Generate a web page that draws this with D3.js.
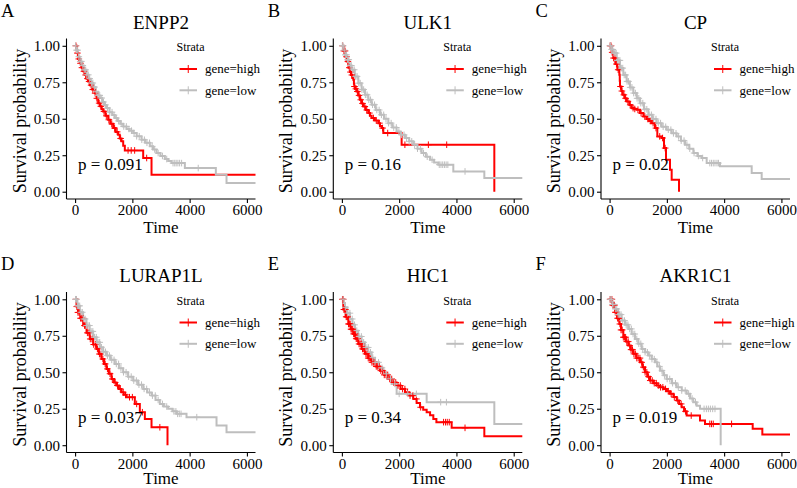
<!DOCTYPE html>
<html><head><meta charset="utf-8">
<script src="https://cdn.jsdelivr.net/npm/d3@7"></script>
<style>
body{margin:0;background:#fff}
svg text{font-family:"Liberation Serif","Times New Roman",serif;fill:#000}
</style>
</head><body>
<svg id="chart" width="797" height="488"></svg>
<script>
// ---------------- data ----------------
const panelLetters = ["A","B","C","D","E","F"];
const genes = ["ENPP2","ULK1","CP","LURAP1L","HIC1","AKR1C1"];
const pValues = ["p = 0.091","p = 0.16","p = 0.02","p = 0.037","p = 0.34","p = 0.019"];
const strataLabels = ["gene=high","gene=low"];
const xTicks = [0,2000,4000,6000];
const yTicks = [0,0.25,0.5,0.75,1];

// Kaplan-Meier knots [time, survival]
const highA = [[0,1],[60,0.95],[107,0.91],[170,0.88],[230,0.85],[282,0.825],[340,0.8],[400,0.775],[457,0.755],[520,0.73],[600,0.7],[690,0.675],[750,0.64],[806,0.607],[870,0.585],[930,0.565],[981,0.55],[1060,0.52],[1155,0.493],[1230,0.465],[1330,0.436],[1420,0.41],[1504,0.39],[1560,0.365],[1621,0.345],[1680,0.315],[1737,0.283],[2378,0.231],[2669,0.116],[6600,0.116]];
const lowA = [[0,1],[40,0.97],[100,0.925],[166,0.893],[230,0.865],[300,0.835],[398,0.801],[470,0.775],[550,0.745],[631,0.717],[720,0.685],[800,0.66],[864,0.642],[950,0.615],[1020,0.595],[1097,0.573],[1200,0.545],[1300,0.525],[1388,0.505],[1480,0.485],[1580,0.465],[1679,0.447],[1800,0.43],[1900,0.418],[2028,0.402],[2150,0.38],[2319,0.356],[2450,0.335],[2610,0.311],[2720,0.29],[2843,0.265],[2980,0.245],[3134,0.224],[3250,0.21],[3367,0.196],[3833,0.162],[4915,0.116],[5288,0.059],[6600,0.059]];
const highB = [[0,1],[60,0.965],[120,0.925],[166,0.893],[230,0.85],[280,0.82],[317,0.8],[365,0.78],[398,0.767],[420,0.74],[433,0.721],[470,0.705],[515,0.687],[570,0.66],[631,0.63],[690,0.605],[748,0.584],[830,0.56],[922,0.539],[980,0.52],[1039,0.505],[1150,0.488],[1272,0.47],[1330,0.45],[1388,0.436],[1446,0.402],[2086,0.322],[5323,0]];
const lowB = [[0,1],[50,0.97],[107,0.938],[170,0.905],[250,0.865],[340,0.836],[450,0.79],[573,0.744],[690,0.7],[806,0.664],[920,0.63],[1039,0.596],[1180,0.56],[1330,0.527],[1470,0.5],[1621,0.47],[1760,0.44],[1912,0.413],[2050,0.39],[2203,0.368],[2350,0.345],[2494,0.322],[2640,0.295],[2785,0.265],[2930,0.24],[3076,0.219],[3220,0.2],[3367,0.185],[3891,0.139],[4974,0.094],[6600,0.094]];
const highC = [[0,1],[70,0.955],[131,0.916],[200,0.875],[270,0.836],[340,0.801],[355,0.76],[364,0.721],[410,0.69],[457,0.664],[530,0.64],[596,0.619],[690,0.595],[771,0.573],[860,0.567],[946,0.562],[1062,0.539],[1180,0.515],[1295,0.498],[1380,0.485],[1469,0.47],[1586,0.436],[1667,0.379],[1819,0.368],[1900,0.299],[1970,0.219],[2110,0.151],[2168,0.082],[2424,0]];
const lowC = [[0,1],[60,0.975],[131,0.95],[250,0.9],[364,0.847],[480,0.8],[596,0.756],[710,0.715],[829,0.676],[950,0.64],[1062,0.607],[1200,0.565],[1353,0.527],[1500,0.498],[1644,0.47],[1820,0.445],[1993,0.425],[2170,0.4],[2343,0.379],[2490,0.35],[2634,0.322],[2780,0.295],[2925,0.265],[3070,0.245],[3216,0.231],[3390,0.196],[3856,0.174],[4962,0.128],[5311,0.087],[6600,0.087]];
const highD = [[0,1],[49,0.95],[100,0.91],[180,0.87],[282,0.82],[400,0.77],[515,0.728],[630,0.69],[748,0.66],[830,0.625],[922,0.591],[1010,0.557],[1097,0.523],[1180,0.49],[1272,0.454],[1360,0.43],[1446,0.409],[1530,0.385],[1621,0.363],[1700,0.345],[1795,0.329],[2086,0.283],[2261,0.226],[2436,0.18],[2669,0.123],[3227,0]];
const lowD = [[0,1],[80,0.955],[166,0.911],[280,0.865],[398,0.82],[510,0.78],[631,0.74],[750,0.705],[864,0.671],[980,0.64],[1097,0.614],[1240,0.585],[1388,0.557],[1530,0.528],[1679,0.5],[1850,0.47],[2028,0.443],[2200,0.415],[2378,0.386],[2520,0.362],[2669,0.34],[2810,0.31],[2960,0.283],[3100,0.265],[3251,0.249],[3400,0.232],[3542,0.215],[3891,0.192],[4939,0.135],[5288,0.089],[6600,0.089]];
const highE = [[0,1],[49,0.93],[130,0.88],[224,0.831],[310,0.795],[398,0.763],[480,0.73],[573,0.694],[690,0.66],[806,0.626],[920,0.597],[1039,0.568],[1180,0.54],[1330,0.511],[1480,0.482],[1621,0.454],[1760,0.43],[1912,0.409],[2050,0.385],[2203,0.363],[2350,0.34],[2494,0.317],[2610,0.29],[2727,0.26],[2840,0.243],[2960,0.226],[3080,0.205],[3193,0.18],[3300,0.158],[3833,0.119],[4974,0.062],[6600,0.062]];
const lowE = [[0,1],[60,0.975],[107,0.945],[190,0.905],[282,0.865],[370,0.825],[457,0.785],[570,0.745],[690,0.705],[806,0.67],[922,0.637],[1040,0.6],[1155,0.568],[1300,0.53],[1446,0.489],[1590,0.455],[1737,0.42],[1912,0.352],[2960,0.295],[5323,0.146],[6600,0.146]];
const highF = [[0,1],[90,0.96],[189,0.911],[260,0.87],[340,0.831],[400,0.79],[480,0.74],[570,0.71],[655,0.683],[740,0.655],[829,0.626],[940,0.597],[1062,0.568],[1150,0.535],[1237,0.5],[1320,0.47],[1411,0.443],[1530,0.425],[1644,0.409],[1760,0.397],[1877,0.386],[2000,0.37],[2110,0.352],[2230,0.33],[2343,0.306],[2430,0.283],[2517,0.26],[2600,0.232],[2692,0.203],[3157,0.169],[3332,0.146],[4997,0.112],[5334,0.073],[6600,0.073]];
const lowF = [[0,1],[90,0.965],[189,0.934],[300,0.895],[422,0.854],[540,0.825],[655,0.797],[770,0.762],[888,0.728],[1000,0.695],[1120,0.66],[1240,0.637],[1353,0.614],[1470,0.59],[1586,0.568],[1670,0.54],[1760,0.511],[1880,0.48],[1993,0.454],[2170,0.425],[2343,0.397],[2520,0.375],[2692,0.352],[2810,0.32],[2925,0.295],[3040,0.27],[3157,0.249],[3879,0]];

// censoring times
const censHighA = [30,80,130,190,240,310,370,430,490,560,620,700,760,840,900,1010,1090,1180,1280,1380,1470,1590,1850,1960,2080,2500];
const censLowA = [20,50,90,130,180,220,270,320,370,410,460,510,570,620,680,740,800,860,930,990,1060,1130,1210,1290,1360,1440,1520,1610,1700,1790,1880,1970,2060,2150,2240,2330,2420,2510,2600,2690,2780,2900,3050,3200,3420,3480,3530,3590,3650,3720,4300];
const censHighB = [25,70,110,160,210,260,300,350,440,490,540,600,660,720,800,870,960,1100,1200,1310,1420,1600,2200,3020,3660];
const censLowB = [15,45,80,120,160,200,240,290,330,380,430,480,530,590,640,700,760,820,880,940,1000,1070,1140,1220,1300,1380,1460,1540,1630,1720,1810,1900,1990,2080,2170,2260,2350,2440,2540,2640,2740,2850,2980,3150,3400,3460,3520,3580,3640,3700,4300];
const censHighC = [20,50,90,140,190,240,300,380,430,500,560,640,720,820,880,990,1100,1230,1340,1420,1520,1620,1750,1850,1940];
const censLowC = [15,40,70,110,150,190,230,270,320,360,410,460,510,560,610,660,720,780,840,900,960,1020,1090,1160,1230,1300,1380,1460,1540,1620,1700,1780,1870,1960,2050,2140,2230,2320,2410,2500,2600,2700,2800,2950,3100,3250,3500,3560,3620,3680,3750,3800];
const censHighD = [30,60,100,140,190,230,280,330,380,430,480,530,590,650,710,780,850,900,970,1050,1130,1220,1300,1400,1480,1580,1680,1760,1900,2000,2150,2350,2960];
const censLowD = [15,45,80,120,160,200,250,300,350,400,450,500,560,620,680,740,800,860,920,990,1060,1130,1200,1280,1360,1440,1520,1600,1690,1780,1870,1960,2050,2140,2230,2320,2410,2500,2600,2700,2800,2900,3050,3200,3450,3520,3580,3640,3700,4250];
const censHighE = [20,45,70,95,120,150,175,200,230,260,290,320,350,380,410,440,470,500,530,560,600,640,680,720,760,800,840,880,920,960,1000,1050,1100,1150,1200,1250,1300,1360,1420,1480,1540,1600,1670,1740,1810,1880,1960,2040,2120,2200,2290,2380,2480,2600,2750,3550,3620,3680,3750,4300];
const censLowE = [40,120,200,280,360,440,520,600,680,760,840,920,1000,1080,1160,1280,1400,1550,1700,1850,2000,2300,2600,3450,3650];
const censHighF = [20,50,80,110,140,170,200,240,280,320,360,400,440,480,520,560,600,650,700,750,800,850,900,950,1000,1060,1120,1180,1240,1300,1360,1420,1490,1560,1630,1700,1780,1860,1950,2050,2150,2260,2380,2500,2650,2850,3500,3560,3620,4260];
const censLowF = [20,60,100,150,200,250,300,350,400,460,520,580,640,700,760,820,880,950,1020,1090,1160,1240,1320,1400,1480,1560,1650,1740,1830,1920,2010,2100,2200,2300,2400,2520,2640,2760,2880,3000,3300,3380,3450,3520,3600,3680];

const highCurves = [highA,highB,highC,highD,highE,highF];
const lowCurves = [lowA,lowB,lowC,lowD,lowE,lowF];
const highCens = [censHighA,censHighB,censHighC,censHighD,censHighE,censHighF];
const lowCens = [censLowA,censLowB,censLowC,censLowD,censLowE,censLowF];

// ---------------- layout ----------------
const colorHigh = "#FF0000", colorLow = "#BEBEBE";
const colOffsets = [0, 266.8, 534.5];
const rowOffsets = [0, 253.5];
const plotL = 66.5, plotW = 189, plotTop = 38.5, plotBot = 199;

const svg = d3.select("#chart");
const x = d3.scaleLinear().domain([-300, 6300]).range([plotL, plotL + plotW]);
const y = d3.scaleLinear().domain([-0.05, 1.05]).range([plotBot, plotTop]);
const bis = d3.bisector(d => d[0]).right;
const survAt = (curve, t) => curve[Math.max(0, bis(curve, t) - 1)][1];
const line = d3.line().x(d => x(d[0])).y(d => y(d[1])).curve(d3.curveStepAfter);

svg.append("defs").append("clipPath").attr("id", "clip")
  .append("rect").attr("x", plotL).attr("y", plotTop).attr("width", plotW).attr("height", plotBot - plotTop);

genes.forEach((gene, i) => {
  const row = Math.floor(i / 3);
  const g = svg.append("g")
    .attr("transform", `translate(${colOffsets[i % 3]},${rowOffsets[row]})`);

  // panel letter & title
  g.append("text").attr("x", 1).attr("y", 16.5).style("font-size", "18.5px").text(panelLetters[i]);
  g.append("text").attr("x", plotL + plotW / 2).attr("y", 28.5).attr("text-anchor", "middle")
    .style("font-size", "19px").text(gene);

  // curves
  const pg = g.append("g").attr("clip-path", "url(#clip)");
  const series = [
    {curve: highCurves[i], cens: highCens[i], color: colorHigh},
    {curve: lowCurves[i], cens: lowCens[i], color: colorLow}
  ];
  series.forEach(s => {
    pg.append("path").datum(s.curve).attr("d", line)
      .attr("fill", "none").attr("stroke", s.color).attr("stroke-width", 2);
  });
  series.forEach(s => {
    pg.selectAll(null).data(s.cens).enter().append("path")
      .attr("d", t => {
        const cx = x(t), cy = y(survAt(s.curve, t)), h = 3.3;
        return `M${cx - h},${cy}H${cx + h}M${cx},${cy - h}V${cy + h}`;
      })
      .attr("stroke", s.color).attr("stroke-width", 1).attr("fill", "none");
  });

  // axes
  const ax = g.append("g").attr("transform", `translate(0,${plotBot})`)
    .call(d3.axisBottom(x).tickValues(xTicks).tickSize(4).tickPadding(2).tickFormat(d3.format("d")));
  const ay = g.append("g").attr("transform", `translate(${plotL},0)`)
    .call(d3.axisLeft(y).tickValues(yTicks).tickSize(4).tickPadding(2.5).tickFormat(d3.format(".2f")));
  [ax, ay].forEach(a => {
    a.select(".domain").attr("stroke", "#000").attr("stroke-width", 1.1);
    a.selectAll(".tick line").attr("stroke", "#000").attr("stroke-width", 1.1);
    a.selectAll(".tick text").style("font-size", "15px").style("font-family", '"Liberation Serif",serif').attr("fill", "#000");
  });
  ay.select(".domain").attr("d", `M0,${plotTop}V${plotBot}`);
  ax.select(".domain").attr("d", `M${plotL},0H${plotL + plotW}`);
  ax.selectAll(".tick text").attr("dy", "0.68em");

  // axis titles
  g.append("text").attr("x", plotL + plotW / 2).attr("y", row === 0 ? 233 : 230)
    .attr("text-anchor", "middle").style("font-size", "17px").text("Time");
  g.append("text").attr("transform", `translate(25.5,121) rotate(-90)`).attr("text-anchor", "middle")
    .style("font-size", "18px").text("Survival probability");

  // p-value
  g.append("text").attr("x", x(100)).attr("y", y(0.15)).style("font-size", "17px").text(pValues[i]);

  // legend
  const lx = plotL + 110;
  g.append("text").attr("x", lx).attr("y", 51).style("font-size", "12px").text("Strata");
  [colorHigh, colorLow].forEach((c, k) => {
    const ly = 69 + k * 21.3;
    g.append("line").attr("x1", lx + 3).attr("x2", lx + 20.5).attr("y1", ly).attr("y2", ly)
      .attr("stroke", c).attr("stroke-width", 2);
    g.append("line").attr("x1", lx + 11.75).attr("x2", lx + 11.75).attr("y1", ly - 4).attr("y2", ly + 4)
      .attr("stroke", c).attr("stroke-width", 1);
    g.append("text").attr("x", lx + 28.5).attr("y", ly + 4.3).style("font-size", "13px").text(strataLabels[k]);
  });
});
</script>
</body></html>
